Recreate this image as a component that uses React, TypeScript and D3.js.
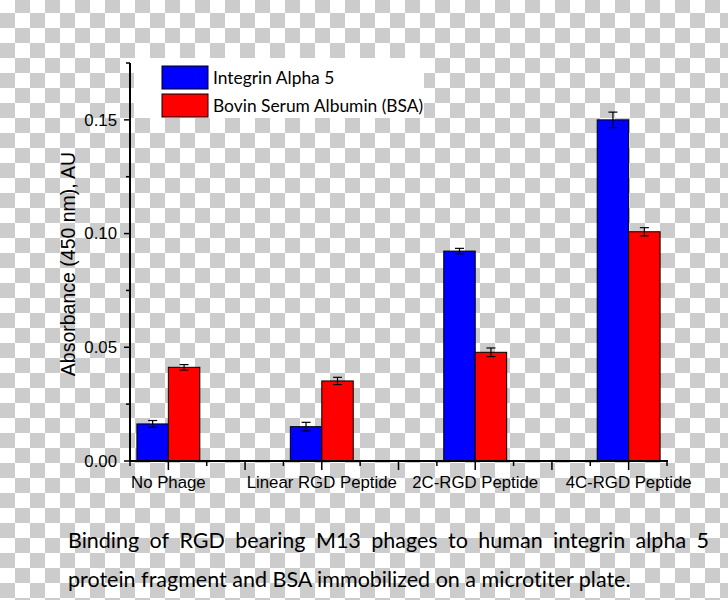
import React, { useEffect, useRef } from "react";
import * as d3 from "d3";

const categories = ["No Phage", "Linear RGD Peptide", "2C-RGD Peptide", "4C-RGD Peptide"];
const categoryPositions = [1, 5, 9, 13];
const integrinValues = [0.0163, 0.0151, 0.0923, 0.1500];
const integrinErrors = [0.0015, 0.0019, 0.0012, 0.0034];
const bsaValues = [0.0412, 0.0352, 0.0478, 0.1008];
const bsaErrors = [0.0012, 0.0016, 0.0019, 0.0018];
const seriesNames = ["Integrin Alpha 5", "Bovin Serum Albumin (BSA)"];
const seriesColors = ["#0000ff", "#ff0000"];
const yTicks = [0, 0.05, 0.1, 0.15];
const yMinorTicks = [0.025, 0.075, 0.125, 0.175];
const xMajorTicks = [1, 3, 5, 7, 9, 11, 13];
const xMinorTicks = [0, 2, 4, 6, 8, 10, 12, 14];
const yTitle = "Absorbance (450 nm), AU";
const captionLine1 = "Binding of RGD bearing M13 phages to human integrin alpha 5";
const captionLine2 = "protein fragment and BSA immobilized on a microtiter plate.";

export default function App() {
  const ref = useRef<SVGSVGElement | null>(null);

  useEffect(() => {
    const svg = d3.select(ref.current!);
    svg.selectAll("*").remove();
    const W = 728, H = 600;

    // checkerboard background
    const defs = svg.append("defs");
    const pat = defs.append("pattern").attr("id", "checker").attr("patternUnits", "userSpaceOnUse")
      .attr("width", 30).attr("height", 30).attr("patternTransform", "translate(0,-2)");
    pat.append("rect").attr("width", 30).attr("height", 30).attr("fill", "#ffffff");
    pat.append("rect").attr("x", 15).attr("y", 0).attr("width", 15).attr("height", 15).attr("fill", "#cccccc");
    pat.append("rect").attr("x", 0).attr("y", 15).attr("width", 15).attr("height", 15).attr("fill", "#cccccc");
    svg.append("rect").attr("width", W).attr("height", H).attr("fill", "url(#checker)");

    const x = d3.scaleLinear().domain([0, 14]).range([130, 667]);
    const y = d3.scaleLinear().domain([0, 0.175]).range([461, 63]);
    const bw = x(0.82) - x(0);
    const sans = "'Liberation Sans', Arial, sans-serif";

    // legend background
    svg.append("rect").attr("x", 134).attr("y", 58).attr("width", 290).attr("height", 60).attr("fill", "#ffffff");

    // bars
    const g = svg.append("g");
    const series = [
      { vals: integrinValues, errs: integrinErrors, off: -1 },
      { vals: bsaValues, errs: bsaErrors, off: 0 },
    ];
    series.forEach((s, si) => {
      s.vals.forEach((v, i) => {
        const cx = x(categoryPositions[i]);
        const x0 = cx + s.off * bw;
        g.append("rect").attr("x", x0).attr("y", y(v)).attr("width", bw).attr("height", y(0) - y(v))
          .attr("fill", seriesColors[si]).attr("stroke", "#000").attr("stroke-width", 1);
        const mx = x0 + bw / 2;
        const e = s.errs[i];
        g.append("line").attr("x1", mx).attr("x2", mx).attr("y1", y(v + e)).attr("y2", y(v - e)).attr("stroke", "#000").attr("stroke-width", 1.2);
        [v + e, v - e].forEach((yy) => {
          g.append("line").attr("x1", mx - 4.5).attr("x2", mx + 4.5).attr("y1", y(yy)).attr("y2", y(yy)).attr("stroke", "#000").attr("stroke-width", 1.2);
        });
      });
    });

    // y axis
    const ax = svg.append("g");
    ax.append("line").attr("x1", 130).attr("x2", 130).attr("y1", y(0.175)).attr("y2", y(0) + 1).attr("stroke", "#000").attr("stroke-width", 2);
    yTicks.forEach((t) => {
      ax.append("line").attr("x1", 124).attr("x2", 130).attr("y1", y(t)).attr("y2", y(t)).attr("stroke", "#000").attr("stroke-width", 1.5);
      ax.append("text").attr("x", 117).attr("y", y(t)).attr("dy", "0.35em").attr("text-anchor", "end")
        .attr("font-family", sans).attr("font-size", 16.8).attr("fill", "#000").text(d3.format(".2f")(t));
    });
    yMinorTicks.forEach((t) => {
      ax.append("line").attr("x1", 126).attr("x2", 130).attr("y1", y(t)).attr("y2", y(t)).attr("stroke", "#000").attr("stroke-width", 1.5);
    });
    ax.append("text").attr("transform", `translate(75,${y(0.0875) + 2}) rotate(-90)`).attr("text-anchor", "middle")
      .attr("font-family", sans).attr("font-size", 19.5).attr("fill", "#000").text(yTitle);

    // x axis
    ax.append("line").attr("x1", 129).attr("x2", x(14) + 1).attr("y1", y(0)).attr("y2", y(0)).attr("stroke", "#000").attr("stroke-width", 2);
    xMajorTicks.forEach((t) => {
      ax.append("line").attr("x1", x(t)).attr("x2", x(t)).attr("y1", y(0)).attr("y2", y(0) + 9).attr("stroke", "#000").attr("stroke-width", 1.5);
    });
    xMinorTicks.forEach((t) => {
      ax.append("line").attr("x1", x(t)).attr("x2", x(t)).attr("y1", y(0)).attr("y2", y(0) + 5).attr("stroke", "#000").attr("stroke-width", 1.5);
    });
    categories.forEach((c, i) => {
      ax.append("text").attr("x", x(categoryPositions[i])).attr("y", 488).attr("text-anchor", "middle")
        .attr("font-family", sans).attr("font-size", 16.8).attr("fill", "#000").text(c);
    });

    // legend
    const calib = "Lato, 'Open Sans', sans-serif";
    seriesNames.forEach((n, i) => {
      const ly = 66 + i * 28;
      svg.append("rect").attr("x", 162).attr("y", ly).attr("width", 46).attr("height", 23)
        .attr("fill", seriesColors[i]).attr("stroke", "#000").attr("stroke-width", 1);
      svg.append("text").attr("x", 213).attr("y", ly + 11.5).attr("dy", "0.35em")
        .attr("font-family", calib).attr("font-size", 17.4).attr("fill", "#000").text(n);
    });

    // caption, first line justified
    const capG = svg.append("g").attr("font-family", calib).attr("font-size", 21.5).attr("fill", "#000")
      .style("font-variant-ligatures", "none").style("font-feature-settings", "'liga' 0, 'clig' 0");
    const words = captionLine1.split(" ");
    const left = 68, right = 709;
    const wEls = words.map((w) => capG.append("text").attr("y", 548).text(w));
    const widths = wEls.map((el) => (el.node() as SVGTextElement).getComputedTextLength());
    const total = d3.sum(widths);
    const gap = (right - left - total) / (words.length - 1);
    let cx = left;
    wEls.forEach((el, i) => { el.attr("x", cx); cx += widths[i] + gap; });
    capG.append("text").attr("x", left).attr("y", 587).text(captionLine2);
  }, []);

  return <svg ref={ref} width={728} height={600} style={{ position: "absolute", left: 0, top: 0, display: "block" }} />;
}
